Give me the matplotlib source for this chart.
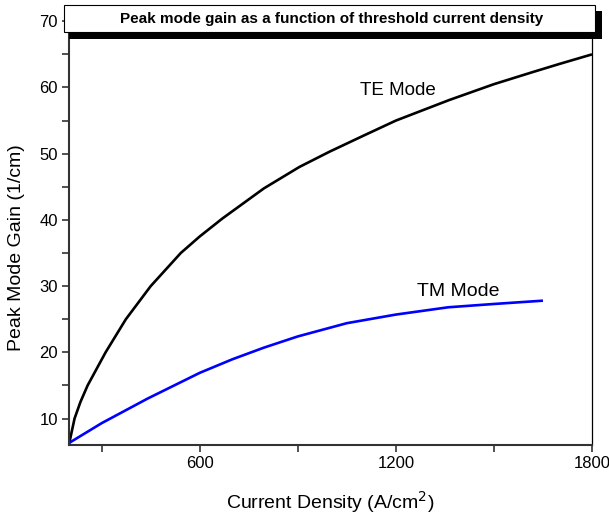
import numpy as np
import matplotlib
matplotlib.use("Agg")
import matplotlib.pyplot as plt
from matplotlib.patches import Rectangle

plt.rcParams['font.family'] = ['Liberation Sans', 'DejaVu Sans']

# threshold current density (A/cm^2) vs peak mode gain (1/cm)
te_j = [200, 217, 235, 257, 312, 374, 450, 542, 600, 669, 796, 905, 997,
        1100, 1200, 1363, 1500, 1617, 1700, 1800]
te_gain = [6.1, 10.0, 12.5, 15.0, 20.0, 25.0, 30.0, 35.0, 37.5, 40.2, 44.75,
           48.0, 50.3, 52.7, 55.0, 58.1, 60.5, 62.3, 63.55, 65.0]

tm_j = [200, 300, 440, 600, 700, 796, 900, 1050, 1200, 1360, 1500, 1650]
tm_gain = [6.3, 9.3, 13.0, 16.9, 18.95, 20.7, 22.4, 24.4, 25.7, 26.8, 27.3, 27.8]

x_ticks = [300, 600, 900, 1200, 1500, 1800]
x_labels = ['', '600', '', '1200', '', '1800']
y_ticks = list(range(10, 71, 5))
y_labels = [str(v) if v % 10 == 0 else '' for v in y_ticks]

fig = plt.figure(figsize=(6.09, 5.19), dpi=100)
ax = fig.add_axes([69/609, 74/519, (592-69)/609, (445-12)/519])

ax.plot(te_j, te_gain, color='black', lw=1.9, solid_capstyle='butt')
ax.plot(tm_j, tm_gain, color='#0000ff', lw=1.9, solid_capstyle='butt')

ax.set_xlim(200, 1800)
ax.set_ylim(6.0, 71.4)
ax.set_xticks(x_ticks)
ax.set_xticklabels(x_labels)
ax.set_yticks(y_ticks)
ax.set_yticklabels(y_labels)
ax.tick_params(direction='out', length=5, width=1.2, color='#333333',
               labelsize=12, pad=3)

for side in ['left', 'bottom']:
    ax.spines[side].set_linewidth(1.5)
    ax.spines[side].set_color('#333333')
ax.spines['right'].set_linewidth(0.9)
ax.spines['top'].set_visible(False)

ax.set_xlabel('Current Density (A/cm$^2$)', fontsize=14, labelpad=13)
ax.set_ylabel('Peak Mode Gain (1/cm)', fontsize=14)
ax.yaxis.set_label_coords(-0.084, 0.455)

ax.text(1090, 59.6, 'TE Mode', fontsize=13.5, va='center', ha='left')
ax.text(1266, 29.2, 'TM Mode', fontsize=14, va='center', ha='left')

# title box with drop shadow
W, H = 609, 519
fig.patches.append(Rectangle((69/W, 1 - 39/H), (602-69)/W, (39-11)/H,
                             transform=fig.transFigure, facecolor='black',
                             edgecolor='none', zorder=5))
fig.patches.append(Rectangle((64/W, 1 - 32/H), (595-64)/W, (32-5)/H,
                             transform=fig.transFigure, facecolor='white',
                             edgecolor='black', lw=0.8, zorder=6))
fig.text(332 / W, 1 - 18.5/H,
         'Peak mode gain as a function of threshold current density',
         fontsize=11, fontweight='bold', ha='center', va='center', zorder=7)

fig.savefig('out.png', dpi=100)
